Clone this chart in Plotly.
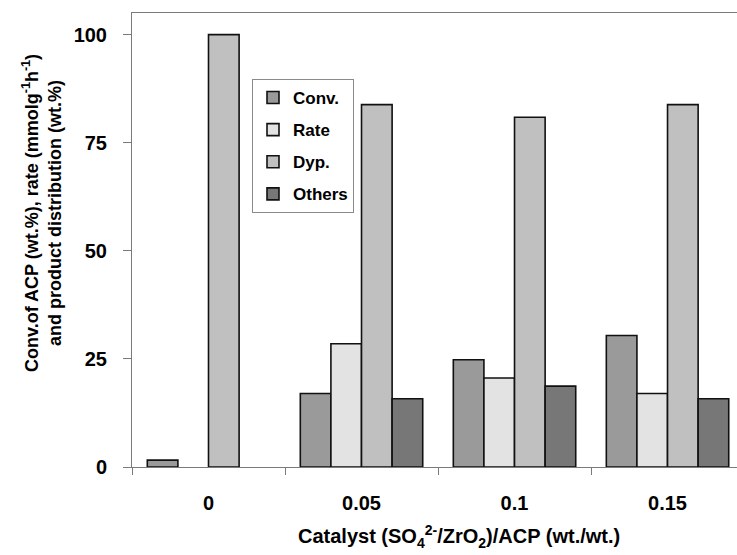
import plotly.graph_objects as go

# Catalyst loading (SO4 2- / ZrO2) / ACP, wt./wt.
loadings = ["0", "0.05", "0.1", "0.15"]

# Series values (wt.% or mmol g-1 h-1); None where nothing was measured
conv = [1.6, 17.0, 24.8, 30.4]
rate = [None, 28.5, 20.6, 17.0]
dyp = [100.0, 83.8, 80.9, 83.8]
others = [None, 15.8, 18.7, 15.8]

y_ticks = [0, 25, 50, 75, 100]

series = [
    ("Conv.", conv, "#9a9a9a"),
    ("Rate", rate, "#e3e3e3"),
    ("Dyp.", dyp, "#c0c0c0"),
    ("Others", others, "#777777"),
]

FONT = "Liberation Sans, Arial, sans-serif"

fig = go.Figure()
for i, (name, vals, color) in enumerate(series):
    fig.add_trace(go.Bar(
        x=loadings, y=vals, name=f"<b>{name}</b>",
        marker=dict(color=color, line=dict(color="#111111", width=1.6)),
        legendgroup=f"g{i}",
    ))

W, H = 737, 555
ML, MR, MT, MB = 132, 0, 13, 88
pw, ph = W - ML - MR, H - MT - MB


def px(xp):
    return (xp - ML) / pw


def py(yp):
    return (H - MB - yp) / ph


fig.update_layout(
    width=W, height=H,
    margin=dict(l=ML, r=MR, t=MT, b=MB, pad=0),
    paper_bgcolor="white", plot_bgcolor="white",
    barmode="group", bargap=0.2, bargroupgap=0,
    font=dict(family=FONT, size=20, color="black"),
    showlegend=True,
    legend=dict(
        x=px(252), y=py(79), xanchor="left", yanchor="top",
        bgcolor="white", bordercolor="#8a8a8a", borderwidth=1,
        font=dict(family=FONT, size=17, color="black"),
        tracegroupgap=7, traceorder="grouped",
        itemwidth=30,
    ),
    xaxis=dict(
        type="category", range=[-0.5, 3.454],
        showline=True, linecolor="#7a7a7a", linewidth=1, mirror=True,
        ticks="outside", ticklen=7, tickcolor="#7a7a7a", tickson="boundaries",
        tickfont=dict(family=FONT, size=20, color="black", weight="bold"),
        ticklabelstandoff=18,
        showgrid=False, zeroline=False,
    ),
    yaxis=dict(
        range=[0, 105], tickvals=y_ticks,
        showline=True, linecolor="#7a7a7a", linewidth=1,
        ticks="outside", ticklen=8, tickcolor="#7a7a7a",
        tickfont=dict(family=FONT, size=20, color="black", weight="bold"),
        ticklabelstandoff=12,
        showgrid=False, zeroline=False,
    ),
    annotations=[
        dict(
            text="<b>Conv.of ACP (wt.%), rate (mmolg<sup>-1</sup>h<sup>-1</sup>)<br>and product distribution (wt.%)</b>",
            xref="paper", yref="paper", x=px(42), y=py(213),
            xanchor="center", yanchor="middle", textangle=-90,
            showarrow=False, font=dict(family=FONT, size=18, color="black"),
        ),
        dict(
            text="<b>Catalyst (SO<sub>4</sub><sup>2-</sup>/ZrO<sub>2</sub>)/ACP (wt./wt.)</b>",
            xref="paper", yref="paper", x=px(459), y=py(536),
            xanchor="center", yanchor="middle",
            showarrow=False, font=dict(family=FONT, size=20, color="black"),
        ),
    ],
)

fig.write_html("out.html")
